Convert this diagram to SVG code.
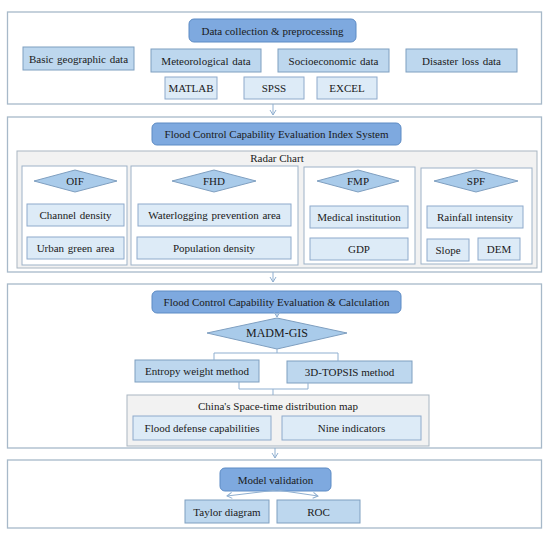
<svg xmlns="http://www.w3.org/2000/svg" width="550" height="533" viewBox="0 0 550 533">
<defs>
<marker id="ah" markerWidth="8" markerHeight="8" refX="6" refY="4" orient="auto" markerUnits="userSpaceOnUse">
<path d="M1,1 L6,4 L1,7" fill="none" stroke="#8FAFD0" stroke-width="1"/>
</marker>
<style>
text{font-family:"Liberation Serif","Times New Roman",serif;font-size:11px;fill:#1a1a1a;text-anchor:middle}
.sec{fill:#fff;stroke:#A7B9C9;stroke-width:1.3}
.title{fill:#7EA9DF;stroke:#5D8BC4;stroke-width:1}
.title-t{font-size:11px}
.med{fill:#BDD7EE;stroke:#7F9FC0;stroke-width:1}
.lt{fill:#DDEBF7;stroke:#8EAACB;stroke-width:1}
.gray{fill:#F2F2F2;stroke:#A9B6C2;stroke-width:1}
.pan{fill:#fff;stroke:#9DB2C7;stroke-width:1}
.dia{fill:#A9CBEA;stroke:#7F9FC0;stroke-width:1}
.con{fill:none;stroke:#8FAFD0;stroke-width:1}
</style>
</defs>

<g id="section1">
<rect class="sec" x="7.5" y="12" width="534" height="92"/>
</g>
<g id="n-data-collection"><rect class="title" x="189" y="19" width="167" height="23" rx="5"/><text class="title-t" x="272.5" y="34.5">Data collection &amp; preprocessing</text></g>
<g id="n-basic"><rect class="med" x="23" y="47" width="111" height="23"/><text x="78.5" y="62.5" word-spacing="1">Basic geographic data</text></g>
<g id="n-meteo"><rect class="med" x="151" y="49" width="110" height="23"/><text x="206" y="64.5" word-spacing="1">Meteorological data</text></g>
<g id="n-socio"><rect class="med" x="278" y="49" width="111" height="23"/><text x="333.5" y="64.5" word-spacing="1">Socioeconomic data</text></g>
<g id="n-disaster"><rect class="med" x="406" y="49" width="111" height="23"/><text x="461.5" y="64.5" word-spacing="1">Disaster loss data</text></g>
<g id="n-matlab"><rect class="lt" x="165" y="77" width="52" height="22"/><text x="191" y="92">MATLAB</text></g>
<g id="n-spss"><rect class="lt" x="244" y="77" width="60" height="22"/><text x="274" y="92">SPSS</text></g>
<g id="n-excel"><rect class="lt" x="317" y="77" width="60" height="22"/><text x="347" y="92">EXCEL</text></g>

<g id="section2">
<rect class="sec" x="7.5" y="117" width="534" height="155"/>
</g>
<g id="n-index-system"><rect class="title" x="152" y="123" width="249" height="22" rx="5"/><text class="title-t" x="276.5" y="138">Flood Control Capability Evaluation Index System</text></g>
<g id="n-radar"><rect class="gray" x="17" y="151" width="520" height="117"/><text x="277" y="162">Radar Chart</text></g>

<g id="p-oif"><rect class="pan" x="22" y="166" width="105" height="99"/></g>
<g id="n-oif"><polygon class="dia" points="34,181 75,170 117,181 75,192"/><text x="75" y="185">OIF</text></g>
<g id="n-channel"><rect class="lt" x="27" y="204" width="97" height="22"/><text x="75.5" y="219" word-spacing="1">Channel density</text></g>
<g id="n-urban"><rect class="lt" x="27" y="237" width="97" height="22"/><text x="75.5" y="252" word-spacing="1">Urban green area</text></g>

<g id="p-fhd"><rect class="pan" x="131" y="166" width="167" height="99"/></g>
<g id="n-fhd"><polygon class="dia" points="172,181 214,170 256,181 214,192"/><text x="214" y="185">FHD</text></g>
<g id="n-waterlog"><rect class="lt" x="138" y="204" width="153" height="22"/><text x="214.5" y="219" word-spacing="1">Waterlogging prevention area</text></g>
<g id="n-pop"><rect class="lt" x="137" y="237" width="154" height="22"/><text x="214" y="252">Population density</text></g>

<g id="p-fmp"><rect class="pan" x="304" y="167" width="111" height="97"/></g>
<g id="n-fmp"><polygon class="dia" points="317,181 358,170 399,181 358,192"/><text x="358" y="185">FMP</text></g>
<g id="n-medical"><rect class="lt" x="310" y="206" width="98" height="22"/><text x="359" y="221">Medical institution</text></g>
<g id="n-gdp"><rect class="lt" x="310" y="238" width="98" height="22"/><text x="359" y="253">GDP</text></g>

<g id="p-spf"><rect class="pan" x="421" y="168" width="111" height="96"/></g>
<g id="n-spf"><polygon class="dia" points="434,181 476,170 518,181 476,192"/><text x="476" y="185">SPF</text></g>
<g id="n-rainfall"><rect class="lt" x="427" y="206" width="96" height="22"/><text x="475" y="221">Rainfall intensity</text></g>
<g id="n-slope"><rect class="lt" x="427" y="239" width="42" height="22"/><text x="448" y="254">Slope</text></g>
<g id="n-dem"><rect class="lt" x="478" y="238" width="42" height="22"/><text x="499" y="253">DEM</text></g>

<g id="section3">
<rect class="sec" x="7.5" y="284" width="534" height="164"/>
</g>
<g id="n-calc"><rect class="title" x="152" y="291" width="249" height="22" rx="5"/><text class="title-t" x="276.5" y="306">Flood Control Capability Evaluation &amp; Calculation</text></g>
<g id="n-madm"><polygon class="dia" points="207,333 277,318 347,333 277,349"/><text x="277" y="337" style="font-size:12px">MADM-GIS</text></g>
<g id="n-entropy"><rect class="med" x="135" y="360" width="124" height="22"/><text x="197" y="375">Entropy weight method</text></g>
<g id="n-topsis"><rect class="med" x="287" y="361" width="125" height="22"/><text x="349.5" y="376">3D-TOPSIS method</text></g>
<g id="n-china"><rect class="gray" x="127" y="395" width="302" height="51"/><text x="278" y="410">China's Space-time distribution map</text></g>
<g id="n-flood-def"><rect class="lt" x="133" y="416" width="138" height="24"/><text x="202" y="432">Flood defense capabilities</text></g>
<g id="n-nine"><rect class="lt" x="282" y="416" width="139" height="24"/><text x="351.5" y="432">Nine indicators</text></g>

<g id="section4">
<rect class="sec" x="7.5" y="460" width="534" height="68"/>
</g>
<g id="n-model"><rect class="title" x="220" y="468" width="111" height="23" rx="5"/><text class="title-t" x="275.5" y="483.5">Model validation</text></g>
<g id="n-taylor"><rect class="med" x="185" y="500" width="84" height="23"/><text x="227" y="515.5">Taylor diagram</text></g>
<g id="n-roc"><rect class="med" x="277" y="500" width="83" height="23"/><text x="318.5" y="515.5">ROC</text></g>

<g id="connectors">
<line class="con" x1="273" y1="104" x2="273" y2="115" marker-end="url(#ah)"/>
<line class="con" x1="273" y1="272" x2="273" y2="282" marker-end="url(#ah)"/>
<line class="con" x1="277" y1="313" x2="277" y2="317" marker-end="url(#ah)"/>
<polyline class="con" points="277,349 277,353 214,353 214,360"/>
<polyline class="con" points="277,353 338,353 338,361"/>
<polyline class="con" points="239,382 239,389 308,389 308,383"/>
<line class="con" x1="273" y1="389" x2="273" y2="395"/>
<line class="con" x1="275" y1="448" x2="275" y2="458" marker-end="url(#ah)"/>
<line class="con" x1="277" y1="490" x2="227" y2="496" marker-end="url(#ah)"/>
<line class="con" x1="277" y1="490" x2="318" y2="496" marker-end="url(#ah)"/>
</g>
</svg>
